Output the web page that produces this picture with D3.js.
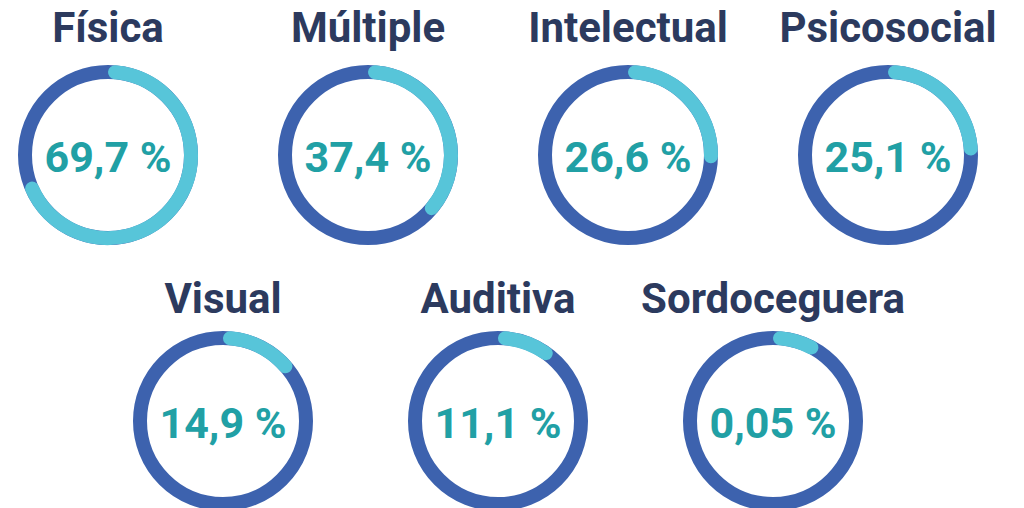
<!DOCTYPE html>
<meta charset="utf-8">
<script src="https://d3js.org/d3.v7.min.js"></script>
<style>
  body { margin: 0; background: #fff; }
  text { font-family: Roboto, "Liberation Sans", sans-serif; font-weight: 700; }
</style>
<div id="chart"></div>
<script>

var categories = ["Física", "Múltiple", "Intelectual", "Psicosocial", "Visual", "Auditiva", "Sordoceguera"];
var values = [69.7, 37.4, 26.6, 25.1, 14.9, 11.1, 0.05];
var topRow = categories.slice(0, 4),
    bottomRow = categories.slice(4);

var width = 1024, height = 508,
    r = 83, ring = 14,
    minShown = 9; // tiny shares still get a visible arc

var svg = d3.select("#chart")
  .append("svg")
    .attr("width", width)
    .attr("height", height);

var xTop = d3.scalePoint().domain(topRow).range([108, 888]);
var xBottom = d3.scalePoint().domain(bottomRow).range([223, 773]);

// clockwise from 12 o'clock
var angle = d3.scaleLinear().domain([0, 100]).range([0, 2 * Math.PI]);
var capAngle = (ring / 2) / r;

function arcPath(a0, a1) {
  var p = d3.path();
  p.moveTo(r * Math.sin(a0), -r * Math.cos(a0));
  p.arc(0, 0, r, a0 - Math.PI / 2, a1 - Math.PI / 2);
  return p.toString();
}

var items = categories.map(function(c, i) {
  var isTop = i < 4;
  return {
    name: c,
    value: values[i],
    x: isTop ? xTop(c) : xBottom(c),
    cy: isTop ? 155 : 421,
    ty: isTop ? 42 : 313
  };
});

var g = svg.selectAll(".donut")
  .data(items)
  .enter().append("g")
    .attr("class", "donut");

g.append("text")
  .attr("x", function(d) { return d.x; })
  .attr("y", function(d) { return d.ty; })
  .attr("text-anchor", "middle")
  .style("font-size", "42px")
  .style("fill", "#2c3a5e")
  .text(function(d) { return d.name; });

var ringG = g.append("g")
  .attr("transform", function(d) { return "translate(" + d.x + "," + d.cy + ")"; });

ringG.append("circle")
  .attr("r", r)
  .attr("fill", "none")
  .attr("stroke", "#3d62ae")
  .attr("stroke-width", ring);

ringG.append("path")
  .attr("fill", "none")
  .attr("stroke", "#57c5d9")
  .attr("stroke-width", ring)
  .attr("stroke-linecap", "round")
  .attr("d", function(d) {
    return arcPath(capAngle, angle(Math.max(d.value, minShown)) - capAngle);
  });

ringG.append("text")
  .attr("y", 17)
  .attr("text-anchor", "middle")
  .style("font-size", "43px")
  .style("fill", "#21a0a5")
  .text(function(d) { return String(d.value).replace(".", ",") + " %"; });

</script>
